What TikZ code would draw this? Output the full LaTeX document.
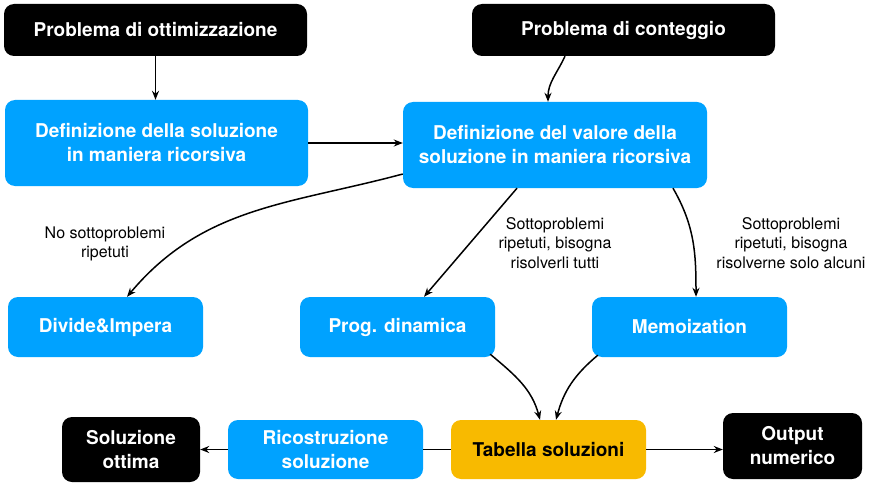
\documentclass[tikz,border=0pt]{standalone}
\usepackage{fontspec}
\setmainfont{TeX Gyre Heros}
\usetikzlibrary{calc,arrows.meta}
\definecolor{kblue}{HTML}{00A2FF}
\definecolor{kyellow}{HTML}{F8BA00}
\begin{document}
\begin{tikzpicture}[x=1pt,y=-1pt,
  box/.style={rounded corners=10pt,align=center,font=\fontsize{19}{24}\selectfont\bfseries,inner sep=0pt},
  blackbox/.style={box,fill=black,text=white},
  bluebox/.style={box,fill=kblue,text=white},
  yellowbox/.style={box,fill=kyellow,text=black},
  lbl/.style={align=center,font=\fontsize{16}{19.5}\selectfont},
  conn/.style={-{Stealth[length=9pt,width=7pt]},line width=1.5pt},
  plain/.style={line width=1.5pt}]
\useasboundingbox (0,0) rectangle (880,484);
\node[blackbox,minimum width=303pt,minimum height=52pt] (ott) at (155.5,30) {Problema di ottimizzazione};
\node[blackbox,minimum width=303pt,minimum height=52pt] (cont) at (623.5,30) {Problema di conteggio};
\node[bluebox,minimum width=303pt,minimum height=86pt] (defsol) at (156.5,143) {Definizione della soluzione\\in maniera ricorsiva};
\node[bluebox,minimum width=304pt,minimum height=86pt] (defval) at (555,145) {Definizione del valore della\\soluzione in maniera ricorsiva};
\node[bluebox,minimum width=195pt,minimum height=60pt] (div) at (105.5,327) {Divide\&Impera};
\node[bluebox,minimum width=195pt,minimum height=60pt] (prog) at (397.5,327) {Prog. dinamica};
\node[bluebox,minimum width=195pt,minimum height=60pt] (memo) at (689.5,327) {Memoization};
\node[blackbox,minimum width=138pt,minimum height=65pt] (solott) at (131,449.5) {Soluzione\\ottima};
\node[bluebox,minimum width=195pt,minimum height=59pt] (ric) at (325.5,449.5) {Ricostruzione\\soluzione};
\node[yellowbox,minimum width=195pt,minimum height=59pt] (tab) at (548.5,449.5) {Tabella soluzioni};
\node[blackbox,minimum width=139pt,minimum height=66pt] (out) at (792.5,446) {Output\\numerico};

\node[lbl] (l1) at (105,244) {No sottoproblemi\\ripetuti};
\node[lbl] (l2) at (555,243) {Sottoproblemi\\ripetuti, bisogna\\risolverli tutti};
\node[lbl] (l3) at (791,243) {Sottoproblemi\\ripetuti, bisogna\\risolverne solo alcuni};

\draw[conn] (ott.south) -- (ott.south |- defsol.north);
\draw[conn] ($(cont.south)+(-58.5,0)$) to[out=-115,in=90] ($(defval.north)+(-7,0)$);
\draw[conn] (defsol.east) -- (defval.west |- defsol.east);
\draw[conn] ($(defval.west)+(0,29)$) to[out=195,in=50] ($(div.north)+(21.5,0)$);
\draw[conn] ($(defval.south)+(-38,0)$) -- ($(prog.north)+(26.5,0)$);
\draw[conn] ($(defval.south)+(118,0)$) to[out=-60,in=90] ($(memo.north)+(6.5,0)$);
\draw[conn] ($(prog.south east)+(-5,-3)$) to[out=-40,in=105] ($(tab.north)+(-8.5,0)$);
\draw[conn] ($(memo.south west)+(6,-2)$) to[out=-140,in=75] ($(tab.north)+(7.5,0)$);
\draw[plain] (tab.west) -- (ric.east);
\draw[conn] (ric.west) -- (solott.east |- ric.west);
\draw[conn] (tab.east) -- (out.west |- tab.east);
\end{tikzpicture}
\end{document}
